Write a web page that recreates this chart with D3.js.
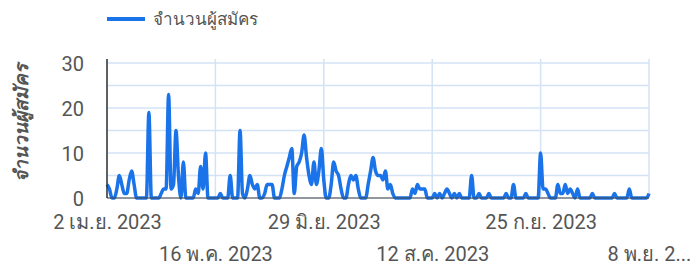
<!DOCTYPE html>
<html>
<head>
<meta charset="utf-8">
<script src="https://d3js.org/d3.v7.min.js"></script>
<style>
  body { margin: 0; background: #fff; }
  text { font-family: Roboto, "Noto Sans", sans-serif; }
</style>
</head>
<body>
<div id="chart"></div>
<script>
// series: daily applicants, starting 2 Apr 2023
var seriesName = "จำนวนผู้สมัคร";
var startDate = new Date(2023, 3, 2);
var counts = [
  3, 2, 0, 0, 2, 5, 3, 1, 1, 4, 6, 3, 0, 0, 0, 0, 0, 19, 0, 0,
  0, 0, 1, 2, 2, 23, 2, 3, 15, 5, 0, 8, 0, 0, 0, 0, 2, 1, 7, 2,
  10, 0, 0, 0, 0, 0, 1, 0, 0, 0, 5, 0, 0, 0, 15, 1, 0, 2, 5, 3,
  2, 3, 0, 0, 1, 3, 3, 3, 0, 0, 0, 2, 5, 7, 9, 11, 1, 7, 8, 10,
  14, 9, 5, 3, 8, 3, 6, 11, 4, 0, 0, 3, 8, 6, 5, 2, 0, 0, 3, 5,
  4, 5, 2, 0, 0, 0, 3, 6, 9, 6, 5, 5, 4, 6, 2, 3, 1, 0, 0, 0,
  0, 0, 0, 0, 2, 1, 3, 2, 2, 2, 0, 0, 0, 1, 0, 1, 0, 1, 2, 1,
  0, 1, 0, 1, 0, 0, 0, 0, 5, 0, 0, 1, 0, 0, 0, 1, 0, 0, 0, 0,
  0, 0, 1, 0, 0, 3, 0, 0, 0, 0, 1, 0, 0, 0, 0, 0, 10, 2, 2, 1,
  0, 0, 0, 3, 1, 1, 3, 1, 2, 1, 0, 2, 0, 0, 0, 0, 0, 1, 0, 0,
  0, 0, 0, 0, 0, 0, 1, 0, 0, 0, 0, 0, 2, 0, 0, 0, 0, 0, 0, 0,
  1
];
var tickDates = [new Date(2023, 3, 2), new Date(2023, 4, 16), new Date(2023, 5, 29),
                 new Date(2023, 7, 12), new Date(2023, 8, 25), new Date(2023, 10, 8)];
var tickLabels = ["2 เม.ย. 2023", "16 พ.ค. 2023", "29 มิ.ย. 2023",
                  "12 ส.ค. 2023", "25 ก.ย. 2023", "8 พ.ย. 2..."];
var yTicks = [0, 10, 20, 30];
var yGrid = [0, 5, 10, 15, 20, 25, 30];

var data = counts.map(function (v, i) {
  return { date: d3.timeDay.offset(startDate, i), value: v };
});

var W = 694, H = 266;
var margin = { top: 63, right: 45, bottom: 68, left: 107 };

var svg = d3.select("#chart").append("svg")
  .attr("width", W).attr("height", H);

var x = d3.scaleTime()
  .domain([tickDates[0], tickDates[tickDates.length - 1]])
  .range([margin.left, W - margin.right]);
var y = d3.scaleLinear()
  .domain([0, 30])
  .range([H - margin.bottom, margin.top]);

var grid = "#d3e3f5";

// horizontal grid
svg.append("g").selectAll("line")
  .data(yGrid).enter().append("line")
  .attr("x1", margin.left).attr("x2", W - margin.right)
  .attr("y1", function (d) { return y(d); })
  .attr("y2", function (d) { return y(d); })
  .attr("stroke", grid).attr("stroke-width", 1.5);

// vertical grid
svg.append("g").selectAll("line")
  .data(tickDates).enter().append("line")
  .attr("x1", function (d) { return x(d); })
  .attr("x2", function (d) { return x(d); })
  .attr("y1", margin.top - 4).attr("y2", H - margin.bottom)
  .attr("stroke", grid).attr("stroke-width", 1.5);

// y labels
var yAxis = svg.append("g")
  .attr("transform", "translate(" + (margin.left - 23) + ",0)")
  .call(d3.axisLeft(y).tickValues(yTicks).tickSize(0).tickPadding(0));
yAxis.select(".domain").remove();
yAxis.selectAll("text")
  .attr("fill", "#555").style("font-size", "20px").attr("dy", "0.35em");

// x labels, staggered
var xAxis = svg.append("g")
  .attr("transform", "translate(0," + (H - margin.bottom) + ")")
  .call(d3.axisBottom(x).tickValues(tickDates).tickSize(0)
    .tickFormat(function (d, i) { return tickLabels[i]; }));
xAxis.select(".domain").remove();
xAxis.selectAll("text")
  .attr("fill", "#555").style("font-size", "20px")
  .attr("y", function (d, i) { return i % 2 === 0 ? 31 : 63; })
  .attr("dy", "0");

// y title
svg.append("text")
  .attr("transform", "translate(28," + 123 + ") rotate(-90)")
  .attr("text-anchor", "middle")
  .attr("fill", "#555")
  .style("font-size", "19px")
  .style("font-style", "italic")
  .style("font-weight", "bold")
  .text(seriesName);

// line
var line = d3.line()
  .x(function (d) { return x(d.date); })
  .y(function (d) { return y(d.value); })
  .curve(d3.curveMonotoneX);

svg.append("path")
  .datum(data)
  .attr("fill", "none")
  .attr("stroke", "#1a73e8")
  .attr("stroke-width", 3.5)
  .attr("stroke-linejoin", "round")
  .attr("d", line);

// axis lines
svg.append("line")
  .attr("x1", margin.left).attr("x2", W - margin.right)
  .attr("y1", y(0)).attr("y2", y(0))
  .attr("stroke", "#444").attr("stroke-width", 1);
svg.append("line")
  .attr("x1", margin.left).attr("x2", margin.left)
  .attr("y1", margin.top - 4).attr("y2", y(0))
  .attr("stroke", "#333").attr("stroke-width", 1.5);

// legend
var legend = svg.append("g").attr("transform", "translate(107,19)");
legend.append("line")
  .attr("x1", 0).attr("x2", 38).attr("y1", 0).attr("y2", 0)
  .attr("stroke", "#1a73e8").attr("stroke-width", 4);
legend.append("text")
  .attr("x", 46).attr("dy", "0.35em")
  .attr("fill", "#555").style("font-size", "17px")
  .text(seriesName);
</script>
</body>
</html>
